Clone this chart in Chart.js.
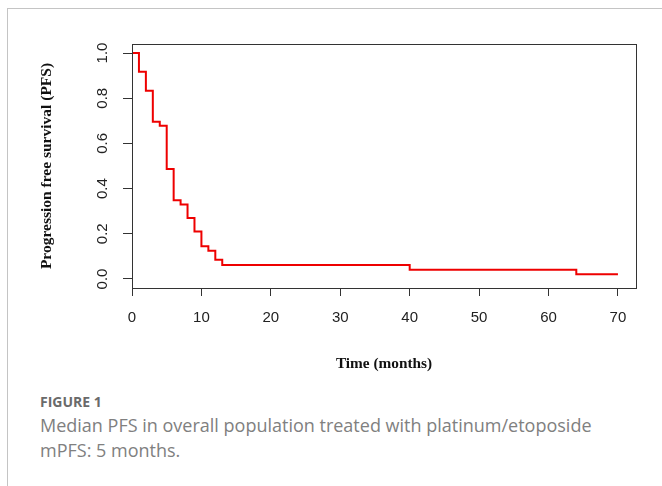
<!DOCTYPE html>
<html>
<head>
<meta charset="utf-8">
<script src="https://cdn.jsdelivr.net/npm/chart.js@4/dist/chart.umd.min.js"></script>
<style>
    body { margin: 0; background: #fff; width: 662px; height: 486px; overflow: hidden; position: relative; }
    #frame { position: absolute; left: 7px; top: 8px; width: 700px; height: 500px; border-top: 1px solid #c4c4c4; border-left: 1px solid #c4c4c4; }
    #wrap { position: absolute; left: 0; top: 0; width: 662px; height: 385px; }
    #caption { position: absolute; left: 40px; top: 393px; font-family: "Open Sans", sans-serif; color: #808080; }
    #caption .fig { font-size: 14px; font-weight: 700; color: #6a6a6a; line-height: 18px; }
    #caption .txt { font-size: 18px; line-height: 25px; margin-top: 2px; }
</style>
</head>
<body>
<div id="frame"></div>
<div id="wrap"><canvas id="pfsChart"></canvas></div>
<div id="caption">
    <div class="fig">FIGURE 1</div>
    <div class="txt">Median PFS in overall population treated with platinum/etoposide<br>mPFS: 5 months.</div>
</div>
<script>
// Kaplan-Meier PFS estimate
const months = [0, 1, 2, 3, 4, 5, 6, 7, 8, 9, 10, 11, 12, 13, 40, 64, 70];
const survival = [1.0, 0.917, 0.833, 0.696, 0.678, 0.487, 0.348, 0.330, 0.270, 0.210, 0.145, 0.125, 0.085, 0.062, 0.041, 0.021, 0.021];
const xTicks = [0, 10, 20, 30, 40, 50, 60, 70];
const yTicks = [0.0, 0.2, 0.4, 0.6, 0.8, 1.0];

const axisColor = '#333';
const tickFont = '"Liberation Sans", Arial, sans-serif';
const titleFont = '"Liberation Serif", "Times New Roman", serif';

// R-style box and rotated y tick labels
const boxPlugin = {
    id: 'rBox',
    afterDraw(chart) {
        const { ctx, chartArea } = chart;
        ctx.save();
        ctx.strokeStyle = axisColor;
        ctx.lineWidth = 1;
        ctx.strokeRect(Math.round(chartArea.left) + 0.5, Math.round(chartArea.top) + 0.5,
            Math.round(chartArea.right - chartArea.left), Math.round(chartArea.bottom - chartArea.top));

        const yScale = chart.scales.y;
        ctx.fillStyle = '#222';
        ctx.font = '15px ' + tickFont;
        ctx.textAlign = 'center';
        ctx.textBaseline = 'middle';
        yTicks.forEach(v => {
            ctx.save();
            ctx.translate(103, yScale.getPixelForValue(v));
            ctx.rotate(-Math.PI / 2);
            ctx.fillText(v.toFixed(1), 0, 0);
            ctx.restore();
        });
        ctx.restore();
    }
};

const ctx = document.getElementById('pfsChart').getContext('2d');
new Chart(ctx, {
    type: 'line',
    data: {
        datasets: [{
            label: 'PFS',
            data: months.map((m, i) => ({ x: m, y: survival[i] })),
            borderColor: '#ee0000',
            borderWidth: 2,
            stepped: true,
            pointRadius: 0,
            fill: false,
        }],
    },
    options: {
        responsive: true,
        maintainAspectRatio: false,
        animation: false,
        layout: { padding: { left: 0, top: 44, right: 26, bottom: 0 } },
        plugins: { legend: { display: false }, tooltip: { enabled: false } },
        scales: {
            x: {
                type: 'linear',
                min: 0,
                max: 72.6,
                afterBuildTicks: s => { s.ticks = xTicks.map(v => ({ value: v })); },
                afterFit: s => { s.height = 97; },
                border: { display: false },
                grid: { drawOnChartArea: false, drawTicks: true, tickLength: 8, color: axisColor, tickColor: axisColor },
                ticks: { color: '#222', padding: 13, font: { family: tickFont, size: 15 }, maxRotation: 0 },
                title: { display: true, text: 'Time (months)', color: '#111', padding: { top: 0, bottom: 12 },
                    font: { family: titleFont, size: 15.3, weight: 'bold' } },
            },
            y: {
                type: 'linear',
                min: -0.04,
                max: 1.04,
                afterBuildTicks: s => { s.ticks = yTicks.map(v => ({ value: v })); },
                afterFit: s => { s.width = 132; },
                border: { display: false },
                grid: { drawOnChartArea: false, drawTicks: true, tickLength: 9, color: axisColor, tickColor: axisColor },
                ticks: { display: false },
                title: { display: true, text: 'Progression free survival (PFS)', color: '#111', padding: { top: 38, bottom: 0 },
                    font: { family: titleFont, size: 15.5, weight: 'bold' } },
            },
        },
    },
    plugins: [boxPlugin],
});
</script>
</body>
</html>
